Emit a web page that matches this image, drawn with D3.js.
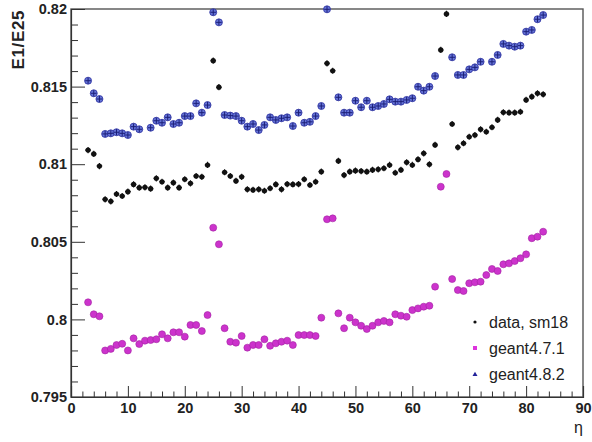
<!DOCTYPE html>
<html>
<head>
<meta charset="utf-8">
<script src="https://cdn.jsdelivr.net/npm/d3@7"></script>
<style>
  html, body { margin: 0; padding: 0; background: #fff; }
  svg { display: block; }
  text { font-family: "Liberation Sans", Arial, Helvetica, sans-serif; }
</style>
</head>
<body>
<svg id="chart" width="592" height="442"></svg>
<script>
// ---- data ----
const eta = [3,4,5,6,7,8,9,10,11,12,13,14,15,16,17,18,19,20,21,22,23,24,25,26,27,28,29,30,
  31,32,33,34,35,36,37,38,39,40,41,42,43,44,45,46,47,48,49,50,51,52,53,54,55,56,57,58,59,60,
  61,62,63,64,65,66,67,68,69,70,71,72,73,74,75,76,77,78,79,80,81,82,83];

const dataSm18 = [0.81091,0.81066,0.80988,0.80774,0.80761,0.80808,0.80795,0.80823,0.80870,0.80849,
  0.80851,0.80842,0.80909,0.80887,0.80849,0.80881,0.80849,0.80903,0.80877,0.80924,0.80919,0.80995,
  0.81667,0.81496,0.80948,0.80924,0.80892,0.80919,0.80838,0.80834,0.80838,0.80829,0.80845,0.80870,
  0.80838,0.80872,0.80870,0.80872,0.80903,0.80866,0.80887,0.80952,0.81650,0.81602,0.81021,0.80930,
  0.80952,0.80958,0.80956,0.80952,0.80963,0.80967,0.80974,0.80995,0.80945,0.80963,0.81012,0.80995,
  0.81031,0.81070,0.80999,0.81124,0.81736,0.81968,0.81259,0.81109,0.81135,0.81177,0.81188,0.81225,
  0.81209,0.81238,0.81285,0.81334,0.81332,0.81332,0.81338,0.81414,0.81435,0.81457,0.81450];

const geant471 = [0.80110,0.80033,0.80020,0.79800,0.79810,0.79835,0.79843,0.79800,0.79878,0.79841,
  0.79863,0.79867,0.79872,0.79904,0.79878,0.79917,0.79917,0.79889,0.79964,0.79964,0.79925,0.80028,
  0.80591,0.80484,0.79943,0.79856,0.79850,0.79893,0.79818,0.79835,0.79835,0.79872,0.79830,0.79846,
  0.79856,0.79863,0.79835,0.79899,0.79899,0.79899,0.79893,0.80011,0.80645,0.80651,0.80039,0.79943,
  0.80011,0.79981,0.79959,0.79938,0.79959,0.79981,0.79990,0.79981,0.80033,0.80024,0.80017,0.80060,
  0.80071,0.80082,0.80088,0.80211,0.80855,0.80937,0.80260,0.80189,0.80183,0.80233,0.80239,0.80243,
  0.80286,0.80325,0.80312,0.80355,0.80361,0.80376,0.80394,0.80419,0.80523,0.80533,0.80565];

const geant482 = [0.81538,0.81457,0.81420,0.81195,0.81199,0.81206,0.81199,0.81188,0.81242,0.81225,
  null,0.81235,0.81280,0.81267,0.81302,0.81259,0.81267,0.81310,0.81310,0.81392,0.81332,0.81381,
  0.81979,0.81914,0.81317,0.81313,0.81310,0.81280,0.81242,0.81259,0.81220,0.81253,0.81302,0.81285,
  0.81296,0.81302,0.81246,0.81332,0.81267,0.81273,0.81310,0.81375,0.81998,null,0.81431,0.81332,
  0.81332,0.81409,0.81367,0.81409,0.81367,0.81375,0.81388,0.81418,0.81403,0.81403,0.81414,0.81425,
  0.81499,0.81474,0.81499,0.81568,null,null,0.81689,0.81575,0.81575,0.81611,0.81624,0.81660,
  null,0.81660,0.81704,0.81775,0.81764,0.81757,0.81764,0.81854,0.81865,0.81934,0.81961];

const seriesNames = ["data, sm18", "geant4.7.1", "geant4.8.2"];
const yErr = [0.0002, 0.00012, 0.0002];   // typical vertical error bar half-size
const xErr = 0.5;                         // half bin width

const xTicks = [0,10,20,30,40,50,60,70,80,90];
const xTickLabels = ["0","10","20","30","40","50","60","70","80","90"];
const xMinorTicks = [2,4,6,8,12,14,16,18,22,24,26,28,32,34,36,38,42,44,46,48,52,54,56,58,62,64,66,68,72,74,76,78,82,84,86,88];
const yTicks = [0.795,0.8,0.805,0.81,0.815,0.82];
const yTickLabels = ["0.795","0.8","0.805","0.81","0.815","0.82"];
const yMinorTicks = [0.796,0.797,0.798,0.799,0.801,0.802,0.803,0.804,0.806,0.807,0.808,0.809,
  0.811,0.812,0.813,0.814,0.816,0.817,0.818,0.819];
const xTitle = "η";
const yTitle = "E1/E25";

// ---- layout ----
const L = 71, R = 583, T = 9, B = 397;
const svg = d3.select("#chart");
const x = d3.scaleLinear().domain([0, 90]).range([L, R]);
const y = d3.scaleLinear().domain([0.795, 0.82]).range([B, T]);

// frame
svg.append("rect").attr("x", L).attr("y", T).attr("width", R - L).attr("height", B - T)
  .attr("fill", "none").attr("stroke", "#555").attr("stroke-width", 1.4);

// axes
const fmtX = (d) => xTickLabels[xTicks.indexOf(d)];
const fmtY = (d) => yTickLabels[yTicks.indexOf(d)];

svg.append("g").attr("transform", `translate(0,${B})`)
  .call(d3.axisBottom(x).tickValues(xTicks).tickFormat(fmtX).tickSize(-11).tickPadding(6));
svg.append("g").attr("transform", `translate(0,${B})`)
  .call(d3.axisBottom(x).tickValues(xMinorTicks).tickFormat("").tickSize(-5.5))
  .call(g => g.select(".domain").remove());
svg.append("g").attr("transform", `translate(${L},0)`)
  .call(d3.axisLeft(y).tickValues(yTicks).tickFormat(fmtY).tickSize(-14).tickPadding(4));
svg.append("g").attr("transform", `translate(${L},0)`)
  .call(d3.axisLeft(y).tickValues(yMinorTicks).tickFormat("").tickSize(-7))
  .call(g => g.select(".domain").remove());

svg.selectAll(".tick line").attr("stroke", "#333").attr("stroke-width", 1);
svg.selectAll(".domain").attr("stroke", "#333").attr("stroke-width", 1.2);
svg.selectAll(".tick text").attr("font-family", "Liberation Sans, Arial, sans-serif")
  .attr("font-size", 14.5).attr("font-weight", "bold").attr("fill", "#222");

// titles
svg.append("text").attr("transform", `translate(24,10) rotate(-90)`)
  .attr("text-anchor", "end").attr("font-size", 17).attr("font-weight", "bold")
  .attr("fill", "#222").attr("letter-spacing", 0.6).text(yTitle);
svg.append("text").attr("x", 583).attr("y", 433).attr("text-anchor", "end")
  .attr("font-size", 16).attr("fill", "#222").text(xTitle);

// ---- marks ----
const plot = svg.append("g");
function points(values) {
  return eta.map((e, i) => ({ e, v: values[i] })).filter(d => d.v !== null);
}
function errorBars(g, pts, err, color, w) {
  g.selectAll(null).data(pts).enter().append("path")
    .attr("d", d => `M${x(d.e - xErr)},${y(d.v)}H${x(d.e + xErr)}M${x(d.e)},${y(d.v - err)}V${y(d.v + err)}`)
    .attr("stroke", color).attr("stroke-width", w).attr("fill", "none");
}

// geant4.7.1 (magenta)
const p471 = points(geant471);
const g471 = plot.append("g");
errorBars(g471, p471, yErr[1], "#8a1a8a", 1);
g471.selectAll("circle").data(p471).enter().append("circle")
  .attr("cx", d => x(d.e)).attr("cy", d => y(d.v)).attr("r", 3.5)
  .attr("fill", "#cc33cc").attr("stroke", "#a322a3").attr("stroke-width", 0.6);

// geant4.8.2 (blue)
const p482 = points(geant482);
const g482 = plot.append("g");
g482.selectAll("circle").data(p482).enter().append("circle")
  .attr("cx", d => x(d.e)).attr("cy", d => y(d.v)).attr("r", 3.5)
  .attr("fill", "#6675d8").attr("stroke", "#2b2f9e").attr("stroke-width", 0.8);
errorBars(g482, p482, yErr[2], "#1c1f78", 1);

// data (black)
const pData = points(dataSm18);
const gData = plot.append("g");
errorBars(gData, pData, yErr[0], "#111", 1.1);
gData.selectAll("circle").data(pData).enter().append("circle")
  .attr("cx", d => x(d.e)).attr("cy", d => y(d.v)).attr("r", 2.6)
  .attr("fill", "#111");

// ---- legend ----
const lg = svg.append("g");
const ly = [322, 348, 374];
const lb = [328, 354, 380];
lg.append("circle").attr("cx", 475).attr("cy", ly[0]).attr("r", 1.6).attr("fill", "#111");
lg.append("rect").attr("x", 473).attr("y", ly[1] - 2).attr("width", 4).attr("height", 4).attr("fill", "#dd33dd");
lg.append("path").attr("d", `M${472.5},${ly[2] + 2}L${475},${ly[2] - 2.2}L${477.5},${ly[2] + 2}Z`).attr("fill", "#22229a");
seriesNames.forEach((n, i) => {
  lg.append("text").attr("x", 489).attr("y", lb[i]).attr("font-size", 16)
    .attr("fill", "#222").text(n);
});
</script>
</body>
</html>
